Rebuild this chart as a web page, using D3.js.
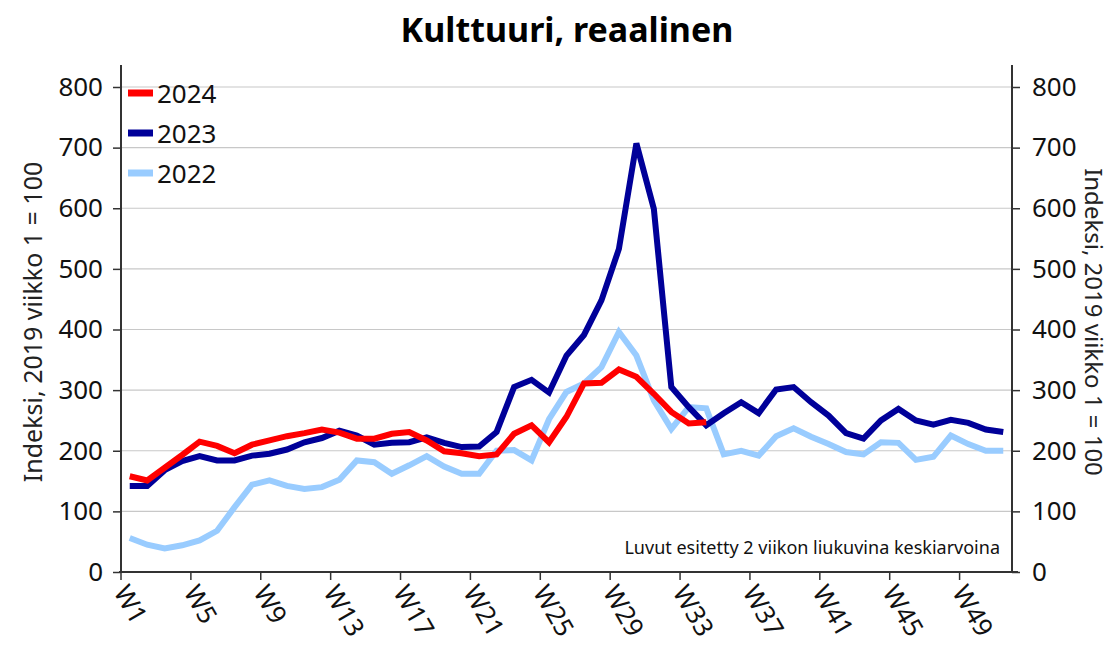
<!DOCTYPE html>
<html>
<head>
<meta charset="utf-8">
<script src="https://cdn.jsdelivr.net/npm/d3@7"></script>
<style>
  body { margin: 0; background: #fff; }
  svg { display: block; font-family: "Noto Sans", "Open Sans", sans-serif; }
</style>
</head>
<body>
<svg id="chart" width="1113" height="647"></svg>
<script>
// weeks W1..W51
var weeks = d3.range(1, 52).map(function(d) { return "W" + d; });
var tickWeeks = ["W1", "W5", "W9", "W13", "W17", "W21", "W25", "W29", "W33", "W37", "W41", "W45", "W49"];
var yTicks = [0, 100, 200, 300, 400, 500, 600, 700, 800];

// 2024 only up to W34
var values2024 = [158, 151, 172, 193, 215, 208, 196, 210, 217, 224, 229, 235, 230, 220, 220, 228, 231,
    217, 199, 196, 191, 194, 228, 242, 214, 256, 311, 312, 334, 322, 294, 264, 245, 247];
var values2023 = [142, 142, 168, 183, 191, 184, 184, 192, 195, 202, 214, 221, 233, 225, 210, 213, 214,
    222, 213, 206, 207, 231, 305, 317, 296, 357, 391, 448, 533, 707, 599, 305, 272, 242,
    262, 280, 262, 301, 305, 280, 258, 229, 220, 250, 269, 250, 243, 251, 246, 235, 231];
var values2022 = [56, 45, 39, 44, 52, 68, 107, 144, 151, 142, 137, 140, 152, 184, 181, 162, 176,
    191, 174, 162, 162, 200, 201, 184, 252, 297, 311, 338, 396, 357, 283, 236, 272, 270,
    194, 200, 192, 224, 237, 223, 211, 198, 194, 214, 213, 185, 190, 225, 211, 200, 200];

var seriesNames = ["2024", "2023", "2022"];
var seriesColors = ["#ff0000", "#000099", "#99ccff"];
var seriesValues = [values2024, values2023, values2022];

var svg = d3.select("#chart");
var plotLeft = 121, plotRight = 1012, plotTop = 87, plotBottom = 572;

var x = d3.scaleBand().domain(weeks).range([plotLeft, plotRight]);
var y = d3.scaleLinear().domain([0, 800]).range([plotBottom, plotTop]);

// title
svg.append("text")
    .attr("x", 567).attr("y", 42)
    .attr("text-anchor", "middle")
    .attr("font-size", 34).attr("font-weight", "bold")
    .text("Kulttuuri, reaalinen");

// gridlines
svg.append("g").selectAll("line")
    .data(yTicks.slice(1))
    .enter().append("line")
    .attr("x1", plotLeft).attr("x2", plotRight)
    .attr("y1", function(d) { return y(d); })
    .attr("y2", function(d) { return y(d); })
    .attr("stroke", "#c8c8c8").attr("stroke-width", 1.2);

// left axis
var gl = svg.append("g")
    .attr("transform", "translate(" + plotLeft + ",0)")
    .call(d3.axisLeft(y).tickValues(yTicks).tickSize(8).tickPadding(10));
// right axis
var gr = svg.append("g")
    .attr("transform", "translate(" + plotRight + ",0)")
    .call(d3.axisRight(y).tickValues(yTicks).tickSize(8).tickPadding(12));
// bottom axis
var gb = svg.append("g")
    .attr("transform", "translate(0," + plotBottom + ")")
    .call(d3.axisBottom(x).tickValues(tickWeeks).tickSize(8).tickFormat(function(d) { return d; }));

// move week ticks to band left edge
gb.selectAll(".tick").attr("transform", function(d) { return "translate(" + x(d) + ",0)"; });
gb.selectAll(".tick text")
    .attr("x", 0).attr("y", 0).attr("dy", 0)
    .attr("text-anchor", "start")
    .attr("transform", "translate(-8,20) rotate(60)");

[gl, gr, gb].forEach(function(g) {
    g.selectAll(".domain").attr("stroke", "#333").attr("stroke-width", 2);
    g.selectAll(".tick line").attr("stroke", "#333").attr("stroke-width", 1.5);
    g.selectAll(".tick text").attr("font-size", 26).attr("fill", "#111")
        .attr("font-family", "Noto Sans, Open Sans, sans-serif");
});
gl.select(".domain").attr("d", "M0," + (plotBottom + 1) + "V" + (plotTop - 22));
gr.select(".domain").attr("d", "M0," + (plotBottom + 1) + "V" + (plotTop - 22));
gb.select(".domain").attr("d", "M" + (plotLeft - 2) + ",0H" + (plotRight + 6));

// axis titles
svg.append("text")
    .attr("transform", "translate(42,322) rotate(-90)")
    .attr("text-anchor", "middle")
    .attr("font-size", 25).attr("fill", "#222")
    .text("Indeksi, 2019 viikko 1 = 100");
svg.append("text")
    .attr("transform", "translate(1085,322) rotate(90)")
    .attr("text-anchor", "middle")
    .attr("font-size", 24).attr("fill", "#222")
    .text("Indeksi, 2019 viikko 1 = 100");

// note
svg.append("text")
    .attr("x", 1000).attr("y", 554)
    .attr("text-anchor", "end")
    .attr("font-size", 18).attr("fill", "#111")
    .text("Luvut esitetty 2 viikon liukuvina keskiarvoina");

// lines (draw 2022 first, 2024 last)
var line = d3.line()
    .x(function(d, i) { return x(weeks[i]) + x.bandwidth() / 2; })
    .y(function(d) { return y(d); });

[2, 1, 0].forEach(function(k) {
    svg.append("path")
        .datum(seriesValues[k])
        .attr("fill", "none")
        .attr("stroke", seriesColors[k])
        .attr("stroke-width", 6)
        .attr("stroke-linejoin", "miter")
        .attr("d", line);
});

// legend
var legend = svg.append("g");
seriesNames.forEach(function(name, i) {
    var ly = 93 + i * 40;
    legend.append("line")
        .attr("x1", 128).attr("x2", 153)
        .attr("y1", ly).attr("y2", ly)
        .attr("stroke", seriesColors[i]).attr("stroke-width", 7);
    legend.append("text")
        .attr("x", 157).attr("y", ly + 10)
        .attr("font-size", 26).attr("fill", "#111")
        .text(name);
});
</script>
</body>
</html>
